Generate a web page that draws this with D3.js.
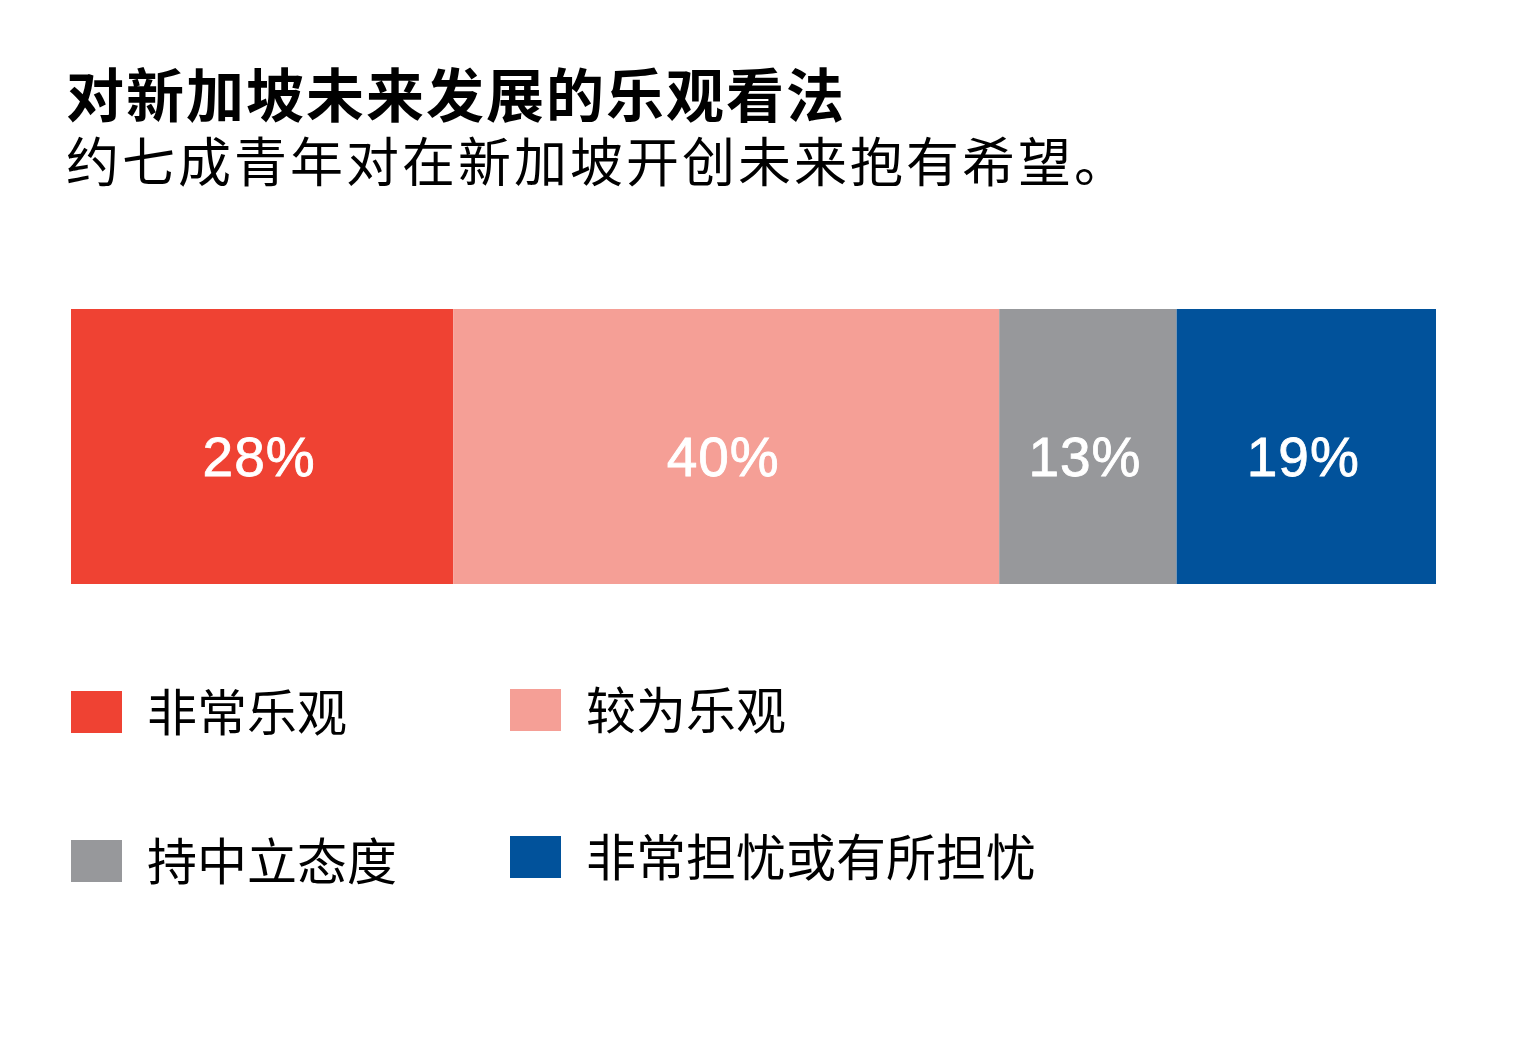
<!DOCTYPE html>
<html>
<head>
<meta charset="utf-8">
<script src="https://cdn.jsdelivr.net/npm/d3@7"></script>
<style>
  html, body { margin: 0; padding: 0; background: #fff; }
  svg { display: block; }
</style>
</head>
<body>
<div id="chart"></div>
<script>
// Les donnees du graphique
const categories = ["非常乐观", "较为乐观", "持中立态度", "非常担忧或有所担忧"];
const values = [28, 40, 13, 19];
const colors = ["#ef4233", "#f59f96", "#97989b", "#01529b"];
const title = "对新加坡未来发展的乐观看法";
const subtitle = "约七成青年对在新加坡开创未来抱有希望。";

const W = 1536, H = 1045;
const margin = {left: 71, right: 100, top: 309};
const barHeight = 275;

const svg = d3.select("#chart")
    .append("svg")
    .attr("width", W)
    .attr("height", H);

// Titres
svg.append("text")
    .attr("x", 66).attr("y", 117)
    .style("font-family", "'Noto Sans CJK SC'")
    .style("font-weight", 700)
    .style("font-size", "58px")
    .style("letter-spacing", "2px")
    .attr("fill", "#000")
    .text(title);
svg.append("text")
    .attr("x", 66).attr("y", 182)
    .style("font-family", "'Noto Sans CJK SC'")
    .style("font-weight", 400)
    .style("font-size", "53px")
    .style("letter-spacing", "3px")
    .attr("fill", "#000")
    .text(subtitle);

// Axe X : scale (0-100%)
const x = d3.scaleLinear()
    .domain([0, d3.sum(values)])
    .range([margin.left, W - margin.right]);

// cumul des valeurs pour empiler
const starts = values.map((v, i) => d3.sum(values.slice(0, i)));
const segs = values.map((v, i) => ({v: v, x0: starts[i], x1: starts[i] + v, c: colors[i]}));

const bar = svg.append("g");
bar.selectAll("rect")
    .data(segs)
    .join("rect")
    .attr("x", d => x(d.x0))
    .attr("y", margin.top)
    .attr("width", d => x(d.x1) - x(d.x0))
    .attr("height", barHeight)
    .attr("fill", d => d.c);

bar.selectAll("text")
    .data(segs)
    .join("text")
    .attr("x", d => (x(d.x0) + x(d.x1)) / 2 - 3)
    .attr("y", margin.top + barHeight / 2 + 29)
    .attr("text-anchor", "middle")
    .style("font-family", "'Liberation Sans', Arial, sans-serif")
    .style("font-size", "55px")
    .style("letter-spacing", "1px")
    .attr("fill", "#fff")
    .attr("stroke", "#fff")
    .attr("stroke-width", 0.8)
    .text(d => d.v + "%");

// Legende
const legPos = [[71, 691], [510, 689], [71, 840], [510, 836]];
const leg = svg.append("g")
    .selectAll("g")
    .data(categories)
    .join("g")
    .attr("transform", (d, i) => `translate(${legPos[i][0]},${legPos[i][1]})`);
leg.append("rect")
    .attr("width", 51)
    .attr("height", 42)
    .attr("fill", (d, i) => colors[i]);
leg.append("text")
    .attr("x", 76)
    .attr("y", 40)
    .style("font-family", "'Noto Sans CJK SC'")
    .style("font-size", "50px")
    .attr("fill", "#000")
    .text(d => d);
</script>
</body>
</html>
